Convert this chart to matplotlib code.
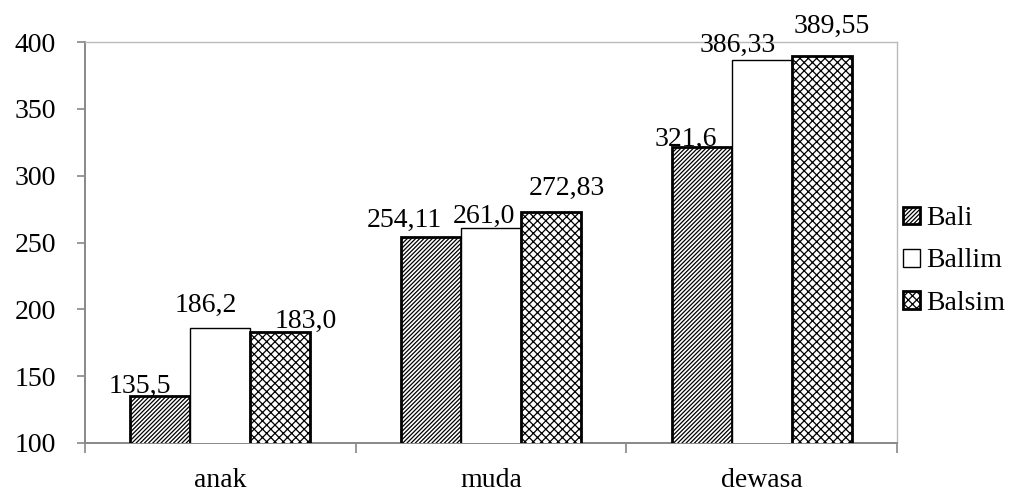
import matplotlib
matplotlib.use("Agg")
import matplotlib.pyplot as plt
import numpy as np

plt.rcParams["font.family"] = ["Liberation Serif", "DejaVu Serif"]
plt.rcParams["hatch.linewidth"] = 0.9

categories = ["anak", "muda", "dewasa"]
series_names = ["Bali", "Ballim", "Balsim"]
bali = [135.5, 254.11, 321.6]
ballim = [186.2, 261.0, 386.33]
balsim = [183.0, 272.83, 389.55]
value_labels = [
    ["135,5", "254,11", "321,6"],
    ["186,2", "261,0", "386,33"],
    ["183,0", "272,83", "389,55"],
]
y_ticks = [100, 150, 200, 250, 300, 350, 400]

# hand-placed label nudges (pixels, dx/dy) for each series and category
label_nudge = [
    [(-20, 3), (-27, 10), (-16, 1)],
    [(-15, 16), (-7, 5), (-24, 8)],
    [(25, 4), (16, 17), (10, 23)],
]

styles = [
    dict(facecolor="white", edgecolor="black", hatch="////////", linewidth=2.0),
    dict(facecolor="white", edgecolor="black", hatch=None, linewidth=1.0),
    dict(facecolor="white", edgecolor="black", hatch="xxxx", linewidth=2.0),
]

FS = 20

fig = plt.figure(figsize=(10.16, 4.95), dpi=100)
ax = fig.add_axes([85 / 1016, 1 - 443 / 495, (897 - 85) / 1016, (443 - 42) / 495])

x = np.arange(len(categories))
width = 0.222
offsets = [-width, 0.0, width]
bar_groups = []
for values, off, st, name in zip([bali, ballim, balsim], offsets, styles, series_names):
    bars = ax.bar(x + off, values, width, bottom=0, label=name, zorder=3, **st)
    bar_groups.append(bars)

px = 72 / 100  # points per pixel
for s, bars in enumerate(bar_groups):
    for c, bar in enumerate(bars):
        dx, dy = label_nudge[s][c]
        ax.annotate(value_labels[s][c],
                    xy=(bar.get_x() + bar.get_width() / 2, bar.get_height()),
                    xytext=(dx * px, dy * px), textcoords="offset points",
                    ha="center", va="baseline", fontsize=FS, zorder=5)

ax.set_ylim(100, 400)
ax.set_xlim(-0.5, len(categories) - 0.5)
ax.set_yticks(y_ticks)
ax.set_yticklabels([str(t) for t in y_ticks])

ax.set_xticks(x)
ax.set_xticklabels(categories)
ax.set_xticks(np.arange(len(categories) + 1) - 0.5, minor=True)

ax.tick_params(axis="y", labelsize=FS, length=6, width=1.2, color="#888888", pad=15)
ax.tick_params(axis="x", which="major", labelsize=FS, length=0, pad=18)
ax.tick_params(axis="x", which="minor", length=7, width=1.2, color="#888888", direction="out")

for side in ["left", "bottom"]:
    ax.spines[side].set_color("#888888")
    ax.spines[side].set_linewidth(1.4)
for side in ["top", "right"]:
    ax.spines[side].set_color("#bbbbbb")
    ax.spines[side].set_linewidth(1.0)

leg = fig.legend(loc="center left", bbox_to_anchor=(903 / 1016, 1 - 261 / 495),
                 frameon=False, fontsize=FS, handlelength=0.6, handleheight=0.6,
                 handletextpad=0.25, labelspacing=0.62, borderpad=0, borderaxespad=0)

fig.savefig("out.png", dpi=100)
